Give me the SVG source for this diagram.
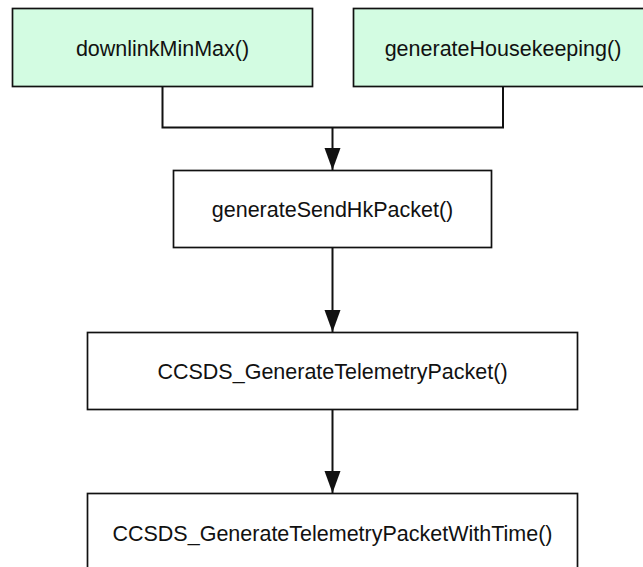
<svg xmlns="http://www.w3.org/2000/svg" width="643" height="567" viewBox="0 0 643 567">
  <style>
    .box { stroke: #111; stroke-width: 1.7; }
    .entry { fill: #d3fce2; }
    .plain { fill: #ffffff; }
    .label { font-family: "Liberation Sans", Arial, sans-serif; font-size: 21.5px; fill: #111; text-anchor: middle; }
    .edge { fill: none; stroke: #111; stroke-width: 2; }
  </style>
  <defs>
    <marker id="arrow" markerUnits="userSpaceOnUse" markerWidth="24" markerHeight="18" refX="22" refY="8" orient="auto">
      <path d="M0,0 L22,8 L0,16 Z" fill="#111"/>
    </marker>
  </defs>
  <rect width="643" height="567" fill="#ffffff"/>

  <g id="connectors">
    <path class="edge" d="M162.5,87 V127.5 H503 V87"/>
    <path class="edge" d="M332.5,127.5 V170" marker-end="url(#arrow)"/>
    <path class="edge" d="M332.5,248 V332" marker-end="url(#arrow)"/>
    <path class="edge" d="M332.5,410 V493" marker-end="url(#arrow)"/>
  </g>

  <g id="downlinkMinMax">
    <rect class="box entry" x="12.5" y="8.5" width="300" height="78"/>
    <text class="label" x="162.5" y="56">downlinkMinMax()</text>
  </g>

  <g id="generateHousekeeping">
    <rect class="box entry" x="353.5" y="8.5" width="300" height="78"/>
    <text class="label" x="503" y="56">generateHousekeeping()</text>
  </g>

  <g id="generateSendHkPacket">
    <rect class="box plain" x="173.5" y="170.5" width="318" height="77"/>
    <text class="label" x="332.5" y="217">generateSendHkPacket()</text>
  </g>

  <g id="CCSDS_GenerateTelemetryPacket">
    <rect class="box plain" x="87.5" y="332.5" width="490" height="77"/>
    <text class="label" x="332.5" y="379">CCSDS_GenerateTelemetryPacket()</text>
  </g>

  <g id="CCSDS_GenerateTelemetryPacketWithTime">
    <rect class="box plain" x="87.5" y="493.5" width="490" height="90"/>
    <text class="label" x="332.5" y="541">CCSDS_GenerateTelemetryPacketWithTime()</text>
  </g>
</svg>
